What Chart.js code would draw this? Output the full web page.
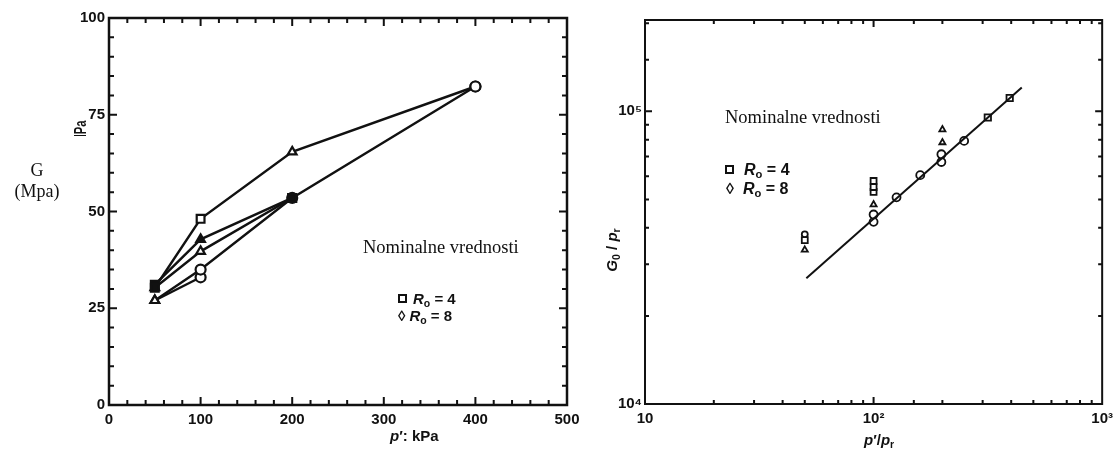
<!DOCTYPE html>
<html>
<head>
<meta charset="utf-8">
<script src="https://cdn.jsdelivr.net/npm/chart.js@4/dist/chart.umd.min.js"></script>
<style>
  html, body { margin: 0; padding: 0; background: #fff; }
  body { width: 1119px; height: 450px; position: relative; overflow: hidden; }
  .box { position: absolute; top: 0; height: 450px; }
  .t { position: absolute; color: #111; white-space: nowrap; }
  .serif { font-family: "Liberation Serif", "Times New Roman", serif; }
  .sans { font-family: "Liberation Sans", Arial, sans-serif; font-weight: bold; }
  .rot { transform: rotate(-90deg); transform-origin: 50% 50%; text-align: center; }
  sub { font-size: 70%; vertical-align: -0.25em; line-height: 0; }
  .sq { display: inline-block; width: 5px; height: 5px; border: 2px solid #111; vertical-align: 1px; margin-right: 6px; }
</style>
</head>
<body>
<div class="box" style="left:0;width:600px"><canvas id="left"></canvas></div>
<div class="box" style="left:600px;width:519px"><canvas id="right"></canvas></div>

<!-- left panel texts -->
<div class="t serif" style="left:7px;top:160px;width:60px;text-align:center;font-size:18px;line-height:21px">G<br>(Mpa)</div>
<div style="position:absolute;left:68px;top:110px;width:26px;height:26px;overflow:hidden">
  <div class="t sans" style="left:-7px;top:13.5px;width:40px;height:16px;line-height:16px;font-size:16px;text-align:center;transform:rotate(-90deg) scaleX(0.7)">MPa</div>
</div>
<div class="t serif" style="left:363px;top:237.5px;font-size:18.5px;line-height:18.5px">Nominalne vrednosti</div>
<div class="t sans" style="left:398px;top:290px;font-size:15px;line-height:17px"><span class="sq"></span><i>R</i><sub>o</sub> = 4</div>
<div class="t sans" style="left:398px;top:307px;font-size:15px;line-height:17px"><span style="margin-right:4px">&#9674;</span><i>R</i><sub>o</sub> = 8</div>
<div class="t sans" style="left:390px;top:427px;font-size:15px;line-height:17px"><i>p</i>&#8242;: kPa</div>

<!-- right panel texts -->
<div class="t serif" style="left:725px;top:108px;font-size:18.5px;line-height:18.5px">Nominalne vrednosti</div>
<div class="t sans" style="left:725px;top:160px;font-size:16px;line-height:19px"><span class="sq" style="margin-right:10px"></span><i>R</i><sub>o</sub> = 4</div>
<div class="t sans" style="left:726px;top:179px;font-size:16px;line-height:19px"><span style="margin-right:9px">&#9674;</span><i>R</i><sub>o</sub> = 8</div>
<div class="t sans rot" style="left:582px;top:241px;width:60px;height:18px;line-height:18px;font-size:15px"><i>G</i><sub>0</sub> / <i>p</i><sub>r</sub></div>
<div class="t sans" style="left:864px;top:431px;font-size:15px;line-height:17px"><i>p</i>&#8242;/<i>p</i><sub>r</sub></div>

<script>
// ---- left panel: G (MPa) against p' (kPa), loading paths ----
const pUpper = [50, 100, 200, 400];
const gUpper = [30.3, 48.1, 65.4, 82.3];
const pMidA = [50, 100, 200];
const gMidA = [31.1, 42.8, 53.5];
const pMidB = [50, 100, 200];
const gMidB = [30.3, 39.7, 53.5];
const pLower = [50, 100, 200, 400];
const gLower = [27.0, 35.0, 53.5, 82.3];
const pLowest = [50, 100];
const gLowest = [27.0, 33.0];

// ---- right panel: G0/pr against p'/pr, log-log ----
const prFit = [50.8, 445];
const gFit = [26900, 120500];
const prCirc = [100, 100, 126, 160, 198, 198, 249, 316, 394];
const gCirc = [41900, 44400, 50800, 60500, 67100, 71300, 79200, 95200, 111000];
const prTri = [50, 100, 200, 200];
const gTri = [33600, 48000, 78200, 86600];
const prSq = [50, 100, 100, 100];
const gSq = [36300, 53000, 55100, 57800];
const prRound = [50];
const gRound = [38000];

const leftXTicks = [0, 100, 200, 300, 400, 500];
const leftYTicks = [0, 25, 50, 75, 100];

const pts = (xs, ys) => xs.map((x, i) => ({x: x, y: ys[i]}));
const sup = {0: '\u2070', 1: '\u00b9', 2: '\u00b2', 3: '\u00b3', 4: '\u2074', 5: '\u2075'};
const ink = '#111';
const tickFont = {family: "'Liberation Sans', Arial, sans-serif", size: 15, weight: 'bold'};
const noGrid = {display: false, drawTicks: false};

// box frame with inward tick marks on all four sides
const frameTicks = {
  id: 'frameTicks',
  afterDraw(chart, args, o) {
    const {ctx, chartArea: a} = chart;
    const xs = chart.scales.x, ys = chart.scales.y;
    ctx.save();
    ctx.strokeStyle = ink;
    ctx.lineWidth = o.frame;
    ctx.strokeRect(a.left, a.top, a.right - a.left, a.bottom - a.top);
    ctx.lineWidth = o.width;
    ctx.beginPath();
    xs.ticks.forEach(t => {
      const px = xs.getPixelForValue(t.value);
      if (px < a.left + 1 || px > a.right - 1) return;
      const len = t.label !== '' ? o.major : o.minor;
      ctx.moveTo(px, a.bottom); ctx.lineTo(px, a.bottom - len);
      ctx.moveTo(px, a.top); ctx.lineTo(px, a.top + len);
    });
    ys.ticks.forEach(t => {
      const py = ys.getPixelForValue(t.value);
      if (py < a.top + 1 || py > a.bottom - 1) return;
      const len = t.label !== '' ? o.major : o.minor;
      ctx.moveTo(a.left, py); ctx.lineTo(a.left + len, py);
      ctx.moveTo(a.right, py); ctx.lineTo(a.right - len, py);
    });
    ctx.stroke();
    ctx.restore();
  }
};

const lineSet = (data, styles, fills, radius) => ({
  data: data,
  showLine: true,
  borderColor: ink,
  borderWidth: 2.4,
  pointStyle: styles,
  pointBackgroundColor: fills,
  pointBorderColor: ink,
  pointBorderWidth: 2.2,
  pointRadius: radius,
});

new Chart(document.getElementById('left'), {
  type: 'scatter',
  data: {
    datasets: [
      lineSet(pts(pUpper, gUpper), ['rect', 'rect', 'triangle', 'circle'], [ink, '#fff', '#fff', '#fff'], [5.5, 5.5, 5, 5]),
      lineSet(pts(pMidA, gMidA), ['rect', 'triangle', 'rect'], [ink, ink, ink], [5.5, 5, 5.5]),
      lineSet(pts(pMidB, gMidB), ['triangle', 'triangle', 'rect'], [ink, '#fff', ink], [5, 5, 5.5]),
      lineSet(pts(pLower, gLower), ['triangle', 'circle', 'circle', 'circle'], ['#fff', '#fff', ink, '#fff'], [5, 5, 5, 5]),
      lineSet(pts(pLowest, gLowest), ['triangle', 'circle'], ['#fff', '#fff'], [5, 5]),
    ]
  },
  options: {
    responsive: true,
    maintainAspectRatio: false,
    animation: false,
    layout: {padding: {left: 0, right: 33, top: 18, bottom: 0}},
    plugins: {
      legend: {display: false},
      tooltip: {enabled: false},
      frameTicks: {frame: 2.5, width: 2, major: 8, minor: 5},
    },
    scales: {
      x: {
        type: 'linear', min: 0, max: 500,
        grid: noGrid,
        border: {display: false},
        afterFit: s => { s.height = 45; },
        ticks: {
          stepSize: 20, autoSkip: false, maxRotation: 0, padding: 6,
          color: ink, font: tickFont,
          callback: v => leftXTicks.includes(v) ? String(v) : '',
        },
      },
      y: {
        type: 'linear', min: 0, max: 100,
        grid: noGrid,
        border: {display: false},
        afterFit: s => { s.width = 109; },
        ticks: {
          stepSize: 5, autoSkip: false, padding: 4,
          color: ink, font: tickFont,
          callback: v => leftYTicks.includes(v) ? String(v) : '',
        },
      },
    },
  },
  plugins: [frameTicks],
});

const decadeLabel = v => {
  const e = Math.log10(v);
  if (Math.abs(e - Math.round(e)) > 1e-9) return '';
  const n = Math.round(e);
  return n === 1 ? '10' : '10' + sup[n];
};

const markSet = (data, style, fill, radius) => ({
  data: data,
  showLine: false,
  pointStyle: style,
  pointBackgroundColor: fill,
  pointBorderColor: ink,
  pointBorderWidth: 1.8,
  pointRadius: radius,
});

new Chart(document.getElementById('right'), {
  type: 'scatter',
  data: {
    datasets: [
      {data: pts(prFit, gFit), showLine: true, borderColor: ink, borderWidth: 2, pointRadius: 0},
      markSet(pts(prCirc, gCirc), ['circle', 'circle', 'circle', 'circle', 'circle', 'circle', 'circle', 'rect', 'rect'], '#fff', [4, 4, 4, 4, 4, 4, 4, 4.5, 4.5]),
      markSet(pts(prTri, gTri), 'triangle', '#fff', 3.5),
      markSet(pts(prSq, gSq), 'rect', '#fff', 4.2),
      markSet(pts(prRound, gRound), 'circle', '#fff', 3),
    ]
  },
  options: {
    responsive: true,
    maintainAspectRatio: false,
    animation: false,
    layout: {padding: {left: 0, right: 14, top: 20, bottom: 0}},
    plugins: {
      legend: {display: false},
      tooltip: {enabled: false},
      frameTicks: {frame: 2, width: 2, major: 7, minor: 4},
    },
    scales: {
      x: {
        type: 'logarithmic', min: 10, max: 1000,
        grid: noGrid,
        border: {display: false},
        afterFit: s => { s.height = 46; },
        ticks: {
          autoSkip: false, maxRotation: 0, padding: 6,
          color: ink, font: tickFont,
          callback: v => decadeLabel(v),
        },
      },
      y: {
        type: 'logarithmic', min: 10000, max: 205000,
        grid: noGrid,
        border: {display: false},
        afterFit: s => { s.width = 45; },
        ticks: {
          autoSkip: false, padding: 3,
          color: ink, font: tickFont,
          callback: v => decadeLabel(v),
        },
      },
    },
  },
  plugins: [frameTicks],
});
</script>
</body>
</html>
